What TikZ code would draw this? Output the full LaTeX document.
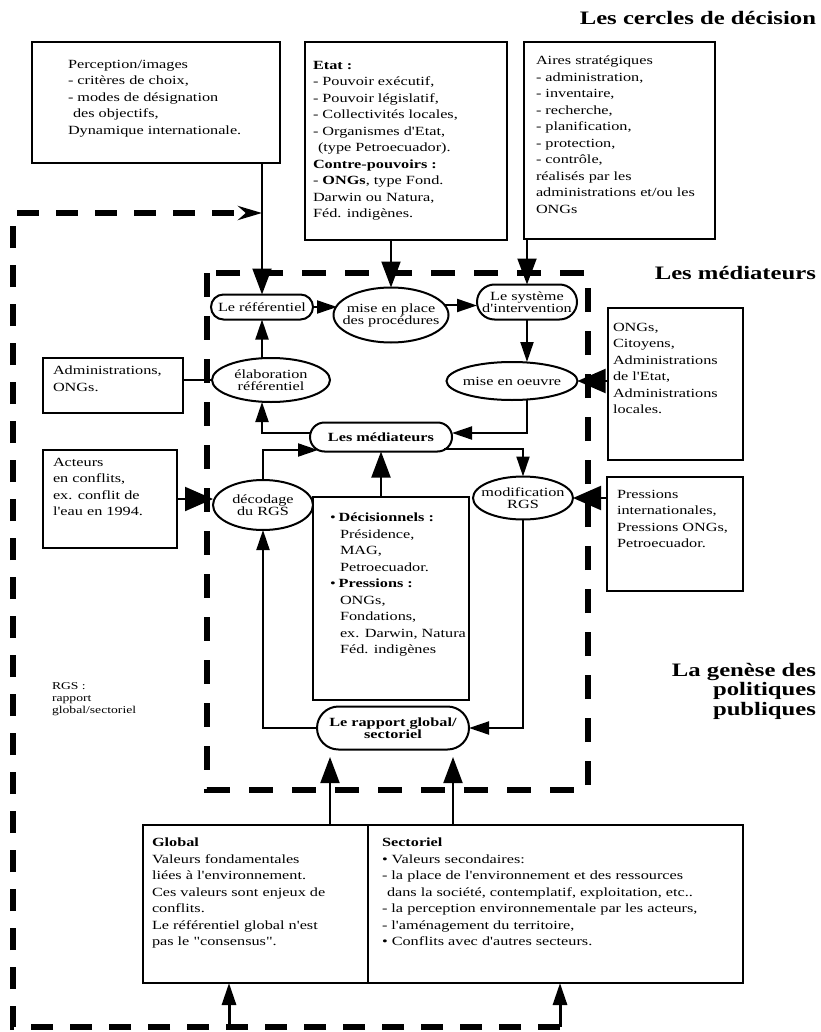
\documentclass[tikz,border=0pt]{standalone}
\usepackage{fontspec}
\setmainfont[FakeStretch=1.3, Ligatures=TeXOff]{Liberation Serif}
\usetikzlibrary{arrows.meta,shapes.geometric,shapes.misc}

\begin{document}
\begin{tikzpicture}[x=1pt,y=-1pt]
\tikzset{ >={Triangle[length=20pt,width=13pt]}, inner sep=0pt, outer sep=0pt,
  boite/.style={draw, line width=2.4pt},
  texte/.style={anchor=north west, align=left, font=\fontsize{12.5}{16.5}\selectfont},
  bulle/.style={draw, ellipse, line width=2pt, align=center, inner xsep=-25pt, inner ysep=-6pt,
    font=\fontsize{12.5}{12}\selectfont},
  pilule/.style={draw, rounded rectangle, line width=2pt, align=center, inner xsep=-14pt,
    font=\fontsize{12.5}{12}\selectfont},
  lien/.style={line width=2pt},
  fleche/.style={lien, ->},
  fleche2/.style={lien, -{Triangle[length=26pt,width=19pt]}},
  fleche3/.style={line width=3pt, -{Triangle[length=22pt,width=14pt]}},
  grosse/.style={lien, -{Triangle[length=28pt,width=24pt]}},
  cadre/.style={line width=6.5pt, dash pattern=on 24pt off 19pt},
  boucle/.style={line width=6pt, dash pattern=on 22pt off 17pt},
  titre/.style={font=\fontsize{19}{19.5}\selectfont\bfseries, align=right},
  note/.style={anchor=north west, align=left, font=\fontsize{10.5}{12}\selectfont},
}

\useasboundingbox (0,0) rectangle (820,1032);
%\draw [lightgray, dashed] (0,0) grid [step=50] (820,1032);

\node [titre, anchor=base east] (tcercles) at (816,25) {Les cercles de décision};
\node [titre, anchor=base east] (tmediat) at (816,279) {Les médiateurs};
\node [titre, anchor=north east] (tgenese) at (816,663) {La genèse des\\politiques\\publiques};

\draw [cadre] (207,273) rectangle (588,790);

\node [boite, minimum width=248, minimum height=121] (percep) at (156,102.5) {};
\node [boite, minimum width=202, minimum height=198] (etat) at (406,141) {};
\node [boite, minimum width=191, minimum height=197] (aires) at (619.5,140.5) {};
\node [boite, minimum width=140, minimum height=55] (admin) at (113,385.5) {};
\node [boite, minimum width=134, minimum height=98] (acteurs) at (110,499) {};
\node [boite, minimum width=135, minimum height=152] (ongs) at (675.5,384) {};
\node [boite, minimum width=136, minimum height=114] (press) at (675,534) {};
\node [boite, minimum width=156, minimum height=203] (central) at (391,598.5) {};
\node [boite, minimum width=225, minimum height=158] (global) at (255.5,904) {};
\node [boite, minimum width=375, minimum height=158] (sector) at (555.5,904) {};

\node [texte] (tpercep) at (68,60) {Perception/images\\- critères de choix,\\- modes de désignation\\\hspace*{5pt}des objectifs,\\Dynamique internationale.};
\node [texte] (tetat) at (313,61) {\textbf{Etat :}\\- Pouvoir exécutif,\\- Pouvoir législatif,\\- Collectivités locales,\\- Organismes d'Etat,\\\hspace*{5pt}(type Petroecuador).\\\textbf{Contre-pouvoirs :}\\- \textbf{ONGs}, type Fond.\\Darwin ou Natura,\\Féd. indigènes.};
\node [texte] (taires) at (536,56) {Aires stratégiques\\- administration,\\- inventaire,\\- recherche,\\- planification,\\- protection,\\- contrôle,\\réalisés par les\\administrations et/ou les\\ONGs};
\node [texte] (tadmin) at (53,366) {Administrations,\\ONGs.};
\node [texte] (tacteurs) at (53,458) {Acteurs\\en conflits,\\ex. conflit de\\l'eau en 1994.};
\node [texte] (tongs) at (613,323) {ONGs,\\Citoyens,\\Administrations\\de l'Etat,\\Administrations\\locales.};
\node [texte] (tpress) at (617,490) {Pressions\\internationales,\\Pressions ONGs,\\Petroecuador.};
\node [texte] (tcentral) at (330,513) {•\hspace{3pt}\textbf{Décisionnels :}\\\hspace*{10pt}Présidence,\\\hspace*{10pt}MAG,\\\hspace*{10pt}Petroecuador.\\•\hspace{3pt}\textbf{Pressions :}\\\hspace*{10pt}ONGs,\\\hspace*{10pt}Fondations,\\\hspace*{10pt}ex. Darwin, Natura\\\hspace*{10pt}Féd. indigènes};
\node [texte] (tglobal) at (152,838) {\textbf{Global}\\Valeurs fondamentales\\liées à l'environnement.\\Ces valeurs sont enjeux de\\conflits.\\Le référentiel global n'est\\pas le "consensus".};
\node [texte] (tsector) at (382,838) {\textbf{Sectoriel}\\• Valeurs secondaires:\\- la place de l'environnement et des ressources\\\hspace*{5pt}dans la société, contemplatif, exploitation, etc..\\- la perception environnementale par les acteurs,\\- l'aménagement du territoire,\\• Conflits avec d'autres secteurs.};
\node [note] (rgs) at (52,683) {RGS :\\rapport\\global/sectoriel};

\node [pilule, minimum width=74, minimum height=25] (referen) at (262,307) {Le référentiel};
\node [bulle, minimum width=115, minimum height=55] (procedur) at (391,315) {mise en place\\des procédures};
\node [pilule, minimum width=72, minimum height=35] (systeme) at (527,302) {Le système\\d'intervention};
\node [bulle, minimum width=118, minimum height=44] (elabor) at (271,380) {élaboration\\référentiel};
\node [bulle, minimum width=131, minimum height=38] (oeuvre) at (512,381) {mise en oeuvre};
\node [pilule, minimum width=114, minimum height=29] (mediat) at (381,437) {\textbf{Les médiateurs}};
\node [bulle, minimum width=100, minimum height=50] (decod) at (263,505) {décodage\\du RGS};
\node [bulle, minimum width=100, minimum height=43] (modif) at (523,498) {modification\\RGS};
\node [pilule, minimum width=124, minimum height=43] (rapport) at (393,728) {\textbf{Le rapport global/}\\\textbf{sectoriel}};

\coordinate (mW1) at (310,433);
\coordinate (mW2) at (318,450);
\coordinate (mE1) at (452,433);
\coordinate (mE2) at (444,449);
\coordinate (r1) at (330,757);
\coordinate (r2) at (453,757);

\draw [fleche2] (referen.north |- percep.south) -- (referen.north);
\draw [fleche2] (procedur.north |- etat.south) -- (procedur.north);
\draw [fleche2] (systeme.north |- aires.south) -- (systeme.north);

\draw [fleche] (referen.east) -- (referen.east -| procedur.170);
\draw [fleche] (procedur.10) -- (procedur.10 -| systeme.west);
\draw [fleche] (systeme.south) -- (systeme.south |- oeuvre.north);
\draw [fleche] (referen.south |- elabor.north) -- (referen.south);
\draw [fleche] (mW1) -| (referen.south |- elabor.south);
\draw [fleche] (systeme.south |- oeuvre.south) |- (mE1);
\draw [fleche] (decod.north) |- (mW2);
\draw [fleche] (mE2) -| (modif.north);
\draw [fleche2] (mediat.south |- central.north) -- (mediat.south);
\draw [fleche] (modif.south) |- (rapport.east);
\draw [fleche] (rapport.west) -| (decod.south);

\draw [lien] (admin.east |- elabor.west) -- (elabor.west);
\draw [grosse] (acteurs.east) -- (acteurs.east -| decod.west);
\draw [grosse] (ongs.west |- oeuvre.east) -- (oeuvre.east);
\draw [grosse] (press.west |- modif.east) -- (modif.east);

\draw [fleche2] (r1 |- global.north) -- (r1);
\draw [fleche2] (r2 |- sector.north) -- (r2);

% boucle de retour
\coordinate (bSE) at (560,1027);
\coordinate (bSO) at (13,1027);
\coordinate (bNO) at (13,213);
\coordinate (bN) at (262,213);
\coordinate (bG) at (229,1027);
\draw [boucle, -{Stealth[length=24pt,width=14pt]}] (bSE) -- (bSO) -- (bNO) -- (bN);
\draw [fleche3] (bG) -- (bG |- global.south);
\draw [fleche3] (bSE) -- (bSE |- sector.south);

\end{tikzpicture}
\end{document}
